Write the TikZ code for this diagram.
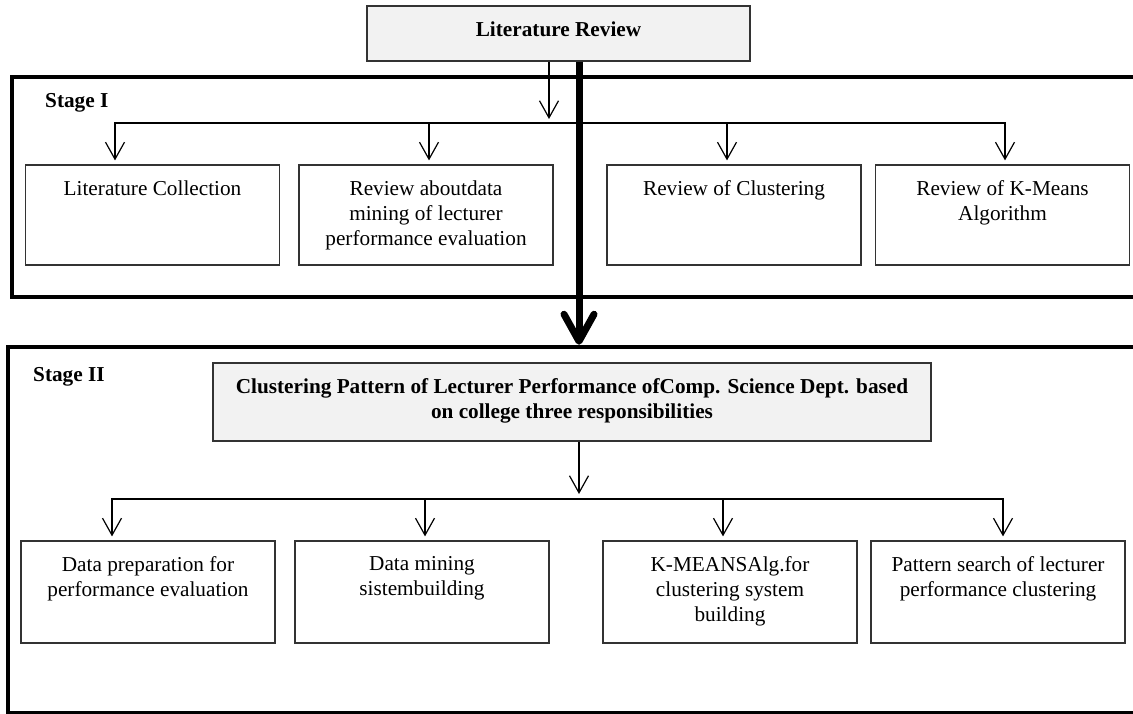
\documentclass[tikz,border=0pt]{standalone}
\usepackage{fontspec}
\setmainfont{Liberation Serif}
\usetikzlibrary{arrows.meta,calc}
\definecolor{boxgray}{HTML}{F2F2F2}
\begin{document}
\begin{tikzpicture}[x=1pt,y=-1pt,
  every node/.style={font=\fontsize{21.25}{25}\selectfont},
  stageframe/.style={draw=black, line width=4.5pt, inner sep=0pt},
  hbox/.style={draw=black!80, fill=boxgray, line width=1.2pt, inner sep=0pt},
  pbox/.style={draw=black!80, line width=1.2pt, inner sep=0pt, minimum width=254pt},
  ptext/.style={anchor=north, align=center, inner sep=0pt},
  htext/.style={align=center, inner sep=0pt, font=\fontsize{21.25}{25}\selectfont\bfseries},
  stlabel/.style={anchor=base west, inner sep=0pt, font=\fontsize{21.25}{25}\selectfont\bfseries},
  conn/.style={line width=1.2pt, draw=black},
  arr/.style={conn, -{Straight Barb[length=17pt,width=19pt]}, shorten >=4pt},
  heavy/.style={line width=7pt, draw=black}]
\useasboundingbox (0,0) rectangle (1133,714);
\clip (0,0) rectangle (1133,714);
\fill[white] (0,0) rectangle (1133,714);

% stage frames (right side runs off the page)
\node[stageframe, minimum width=1140pt, minimum height=220pt] (st1) at (582,187) {};
\node[stageframe, minimum width=1144pt, minimum height=366pt] (st2) at (580,530) {};

% header boxes
\node[hbox, minimum width=383pt, minimum height=55pt] (lr) at (558.5,33.5) {};
\node[htext, anchor=base] (lrt) at (558.5,36.5) {Literature Review};
\node[hbox, minimum width=718pt, minimum height=78pt] (cp) at (572,402) {};
\node[htext, anchor=north] (cpt) at ($(cp.north)+(0,16.2)$) {Clustering Pattern of Lecturer Performance ofComp. Science Dept. based\\on college three responsibilities};

% stage labels
\node[stlabel] (s1l) at (45,108) {Stage I};
\node[stlabel] (s2l) at (33,381.5) {Stage II};

% stage I boxes
\node[pbox, minimum height=100pt] (b1) at (152.5,215) {};
\node[pbox, minimum height=100pt] (b2) at (426,215) {};
\node[pbox, minimum height=100pt] (b3) at (734,215) {};
\node[pbox, minimum height=100pt] (b4) at (1002.5,215) {};
\node[ptext] (b1t) at ($(b1.north)+(0,16)$) {Literature Collection};
\node[ptext] (b2t) at ($(b2.north)+(0,16)$) {Review aboutdata\\mining of lecturer\\performance evaluation};
\node[ptext] (b3t) at ($(b3.north)+(0,16)$) {Review of Clustering};
\node[ptext] (b4t) at ($(b4.north)+(0,16)$) {Review of K-Means\\Algorithm};

% stage II boxes
\node[pbox, minimum height=102pt] (c1) at (148,592) {};
\node[pbox, minimum height=102pt] (c2) at (422,592) {};
\node[pbox, minimum height=102pt] (c3) at (730,592) {};
\node[pbox, minimum height=102pt] (c4) at (998,592) {};
\node[ptext] (c1t) at ($(c1.north)+(0,16)$) {Data preparation for\\performance evaluation};
\node[ptext] (c2t) at ($(c2.north)+(0,16)$) {Data mining\\sistembuilding};
\node[ptext] (c3t) at ($(c3.north)+(0,16)$) {K-MEANSAlg.for\\clustering system\\building};
\node[ptext] (c4t) at ($(c4.north)+(0,16)$) {Pattern search of lecturer\\performance clustering};

% stage I connectors
\coordinate (j1) at (549,123);
\coordinate (a1) at (115,123);
\coordinate (a2) at (429,123);
\coordinate (a3) at (727,123);
\coordinate (a4) at (1005,123);
\draw[arr] (lr.south -| j1) -- (j1);
\draw[conn] (a2) -- (a3);
\draw[arr] (a2) -- (a1) -- (a1 |- b1.north);
\draw[arr] (a3) -- (a4) -- (a4 |- b4.north);
\draw[arr] (a2) -- (a2 |- b2.north);
\draw[arr] (a3) -- (a3 |- b3.north);

% stage II connectors
\coordinate (j2) at (579,499);
\coordinate (d1) at (112,499);
\coordinate (d2) at (425,499);
\coordinate (d3) at (723,499);
\coordinate (d4) at (1003,499);
\draw[arr, shorten >=5pt] (cp.south -| j2) -- (j2);
\draw[conn] (d2) -- (d3);
\draw[arr] (d2) -- (d1) -- (d1 |- c1.north);
\draw[arr] (d3) -- (d4) -- (d4 |- c4.north);
\draw[arr] (d2) -- (d2 |- c2.north);
\draw[arr] (d3) -- (d3 |- c3.north);

% heavy arrow from Literature Review to Stage II
\coordinate (tk) at (579,61);
\coordinate (tip) at ($(st2.north -| tk)+(0,-3.5)$);
\draw[heavy] (lr.south -| tk) -- (tip);
\draw[heavy, line cap=round, line join=round] ($(tip)+(-15,-27)$) -- (tip) -- ($(tip)+(15,-27)$);
\end{tikzpicture}
\end{document}
